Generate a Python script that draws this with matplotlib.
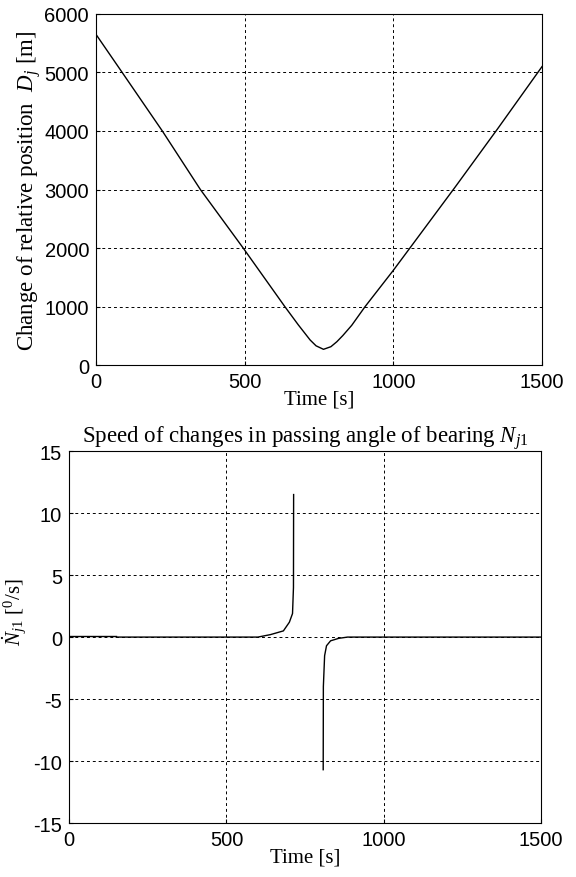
import numpy as np
import matplotlib.pyplot as plt

plt.rcParams['font.family'] = 'Liberation Sans'
plt.rcParams['axes.unicode_minus'] = False
plt.rcParams['mathtext.fontset'] = 'custom'
plt.rcParams['mathtext.rm'] = 'Liberation Serif'
plt.rcParams['mathtext.it'] = 'Liberation Serif:italic'

# relative position D_j [m] vs time [s]
t_pos = [0, 88, 223, 351, 495, 635, 680, 700, 720, 740, 765, 790, 810, 830, 860, 905, 1000, 1060, 1209, 1351, 1500]
d_pos = [5650, 5000, 4000, 3000, 2000, 1000, 690, 560, 430, 330, 270, 315, 400, 505, 680, 1000, 1620, 2030, 3050, 4040, 5100]

# speed of change of bearing angle [deg/s]
t_rate1 = [0, 150]
n_rate1 = [0.06, 0.06]
t_rate2 = [150, 600, 640, 681, 700, 710, 713, 713.5]
n_rate2 = [0, 0, 0.2, 0.5, 1.2, 1.9, 4.0, 11.5]
t_rate3 = [807.5, 808, 812, 818, 831, 857, 885, 1500]
n_rate3 = [-10.7, -4.0, -1.5, -0.7, -0.3, -0.1, 0, 0]

fig = plt.figure(figsize=(5.76, 8.78), dpi=100)
serif = 'Liberation Serif'

ax1 = fig.add_axes([0.1667, 0.583, 0.7743, 0.4])
ax1.plot(t_pos, d_pos, color='black', lw=1.0)
ax1.set_xlim(0, 1500)
ax1.set_ylim(0, 6000)
ax1.set_xticks([0, 500, 1000, 1500])
ax1.set_yticks(range(0, 6001, 1000))
ax1.set_xlabel('Time [s]', family=serif, fontsize=15, labelpad=-1)
ax1.set_ylabel('Change of relative position  $D_j$ [m]', family=serif, fontsize=16.5, labelpad=1)

ax2 = fig.add_axes([0.12, 0.0615, 0.8194, 0.4235])
ax2.plot(t_rate1, n_rate1, color='black', lw=1.0)
ax2.plot(t_rate2, n_rate2, color='black', lw=1.0)
ax2.plot(t_rate3, n_rate3, color='black', lw=1.0)
ax2.set_xlim(0, 1500)
ax2.set_ylim(-15, 15)
ax2.set_xticks([0, 500, 1000, 1500])
ax2.set_yticks(range(-15, 16, 5))
ax2.set_xlabel('Time [s]', family=serif, fontsize=15, labelpad=-1)
ax2.set_ylabel(r'$\dot{N}_{j1}$ [$^0$/s]', family=serif, fontsize=15, labelpad=2)
ax2.yaxis.set_label_coords(-0.085, 0.57)
ax2.set_title('Speed of changes in passing angle of bearing $N_{j1}$', family=serif, fontsize=16.5, pad=3)

for ax in (ax1, ax2):
    ax.grid(True, color='black', linestyle=(0, (3, 3)), lw=0.7)
    ax.tick_params(direction='in', length=3, labelsize=14.5)
    ax.tick_params(axis='x', pad=5)
    ax.tick_params(axis='y', pad=5)
    for s in ax.spines.values():
        s.set_linewidth(0.8)

fig.savefig('out.png', dpi=100)
